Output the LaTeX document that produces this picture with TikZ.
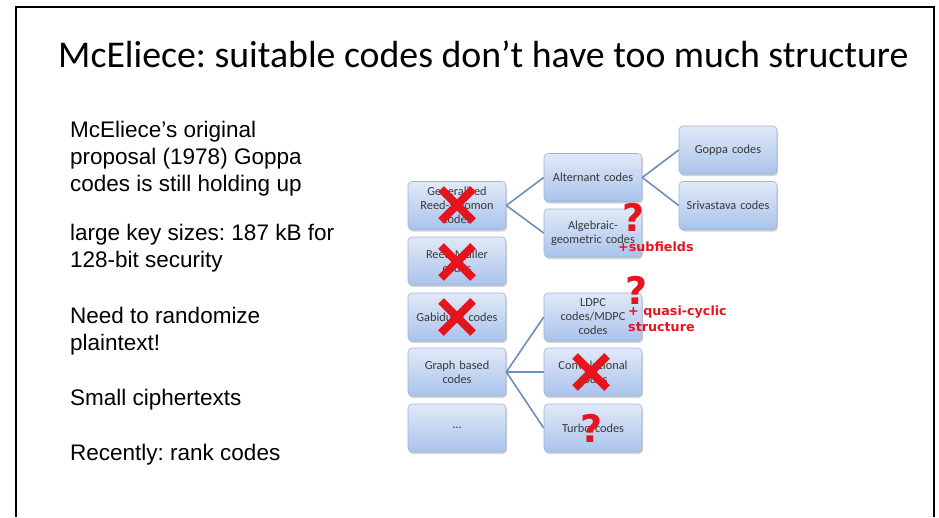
\documentclass[tikz,border=0pt]{standalone}
\usepackage{fontspec}
\setmainfont{Liberation Sans}
\newfontfamily\carlito{Carlito}
\newfontfamily\dejavu{DejaVu Sans}
\usepackage{tikz}
\usetikzlibrary{shapes.misc, shadows}
\frenchspacing
\definecolor{xred}{RGB}{230, 20, 28}
\definecolor{boxtop}{RGB}{224, 233, 247}
\definecolor{boxbot}{RGB}{170, 195, 236}
\definecolor{boxline}{RGB}{160, 180, 215}
\definecolor{linkblue}{RGB}{110, 140, 190}
\tikzset{codebox/.style = {shape = rectangle, rounded corners = 4pt, draw = boxline, line width = 0.6pt, top color = boxtop, bottom color = boxbot, minimum width = 98pt, minimum height = 48pt, text width = 92pt, align = center, inner sep = 0pt, text = black!78, font = \carlito\fontsize{12.3}{14}\selectfont, drop shadow = {opacity = 0.35, shadow xshift = 1pt, shadow yshift = -2pt}}}
\tikzset{link/.style = {-, draw = linkblue, line width = 1.6pt}}
\tikzset{xmark/.style = {cross out, draw = xred, line width = 8pt, minimum size = 24pt, inner sep = 0pt}}
\tikzset{qmark/.style = {text = xred, inner sep = 0pt, font = \dejavu\bfseries\fontsize{38}{38}\selectfont}}
\tikzset{note/.style = {text = xred, inner sep = 0pt, align = left, font = \dejavu\bfseries\fontsize{12.7}{16}\selectfont}}
\tikzset{para/.style = {anchor = base west, inner sep = 0pt, align = left, font = \fontsize{22.5}{27}\selectfont}}

\begin{document}
\begin{tikzpicture}[x = 1pt, y = -1pt]
	\useasboundingbox (0, 0) rectangle (939, 517);
	\draw[line width = 2pt] (16, 517) -- (16, 7) -- (934, 7) -- (934, 517);

	\node[anchor = base west, inner sep = 0pt, font = \carlito\fontsize{37.8}{40}\selectfont] (title) at (58, 67) {McEliece: suitable codes don’t have too much structure};

	% text on the left, placed by the baseline of each last line
	\node[para] (p1) at (70, 191) {McEliece’s original\\proposal (1978) Goppa\\codes is still holding up};
	\node[para] (p2) at (70, 267) {large key sizes: 187 kB for\\128-bit security};
	\node[para] (p3) at (70, 350) {Need to randomize\\plaintext!};
	\node[para] (p4) at (70, 405) {Small ciphertexts};
	\node[para] (p5) at (70, 460) {Recently: rank codes};

	\node[codebox] (grs) at (457, 205.5) {Generalized\\Reed-Solomon\\codes};
	\node[codebox] (rm) at (457, 261) {Reed-Muller\\codes};
	\node[codebox] (gab) at (457, 317) {Gabidulin codes};
	\node[codebox] (graph) at (457, 372) {Graph based\\codes};
	\node[codebox] (dots) at (457, 428) {\ldots};

	\node[codebox] (alt) at (593, 177.5) {Alternant codes};
	\node[codebox] (ag) at (593, 233) {Algebraic-\\geometric codes};
	\node[codebox] (ldpc) at (593, 317) {LDPC\\codes/MDPC\\codes};
	\node[codebox] (conv) at (593, 372) {Convolutional\\codes};
	\node[codebox] (turbo) at (593, 428) {Turbo codes};

	\node[codebox] (goppa) at (728, 150) {Goppa codes};
	\node[codebox] (sriv) at (728, 205.5) {Srivastava codes};

	\draw[link] (grs.east) -- (alt.west);
	\draw[link] (grs.east) -- (ag.west);
	\draw[link] (alt.east) -- (goppa.west);
	\draw[link] (alt.east) -- (sriv.west);
	\draw[link] (graph.east) -- (ldpc.west);
	\draw[link] (graph.east) -- (conv.west);
	\draw[link] (graph.east) -- (turbo.west);

	\node[xmark] (x1) at (457, 205) {};
	\node[xmark] (x2) at (457, 262) {};
	\node[xmark] (x3) at (457, 317) {};
	\node[xmark] (x4) at (591, 372) {};

	\node[qmark] (q1) at (634, 217) {?};
	\node[qmark] (q2) at (637, 290) {?};
	\node[qmark] (q3) at (592, 428) {?};

	\node[note, anchor = west] (sub) at (618, 247) {+subfields};
	\node[note, anchor = north west] (quasi) at (628, 306) {+ quasi-cyclic\\structure};
\end{tikzpicture}
\end{document}
